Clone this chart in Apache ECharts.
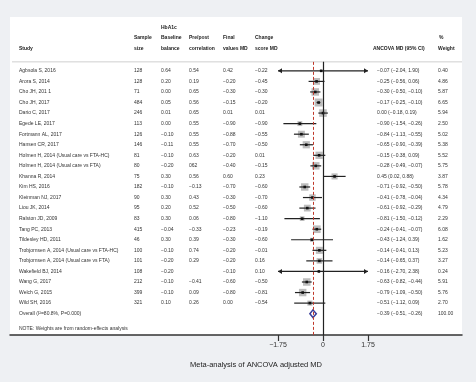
<!DOCTYPE html>
<html>
<head>
<meta charset="utf-8">
<script src="https://cdn.jsdelivr.net/npm/echarts@6/dist/echarts.min.js"></script>
<style>
  html, body { margin: 0; padding: 0; background: #eef0f3; }
  #main { width: 476px; height: 382px; }
</style>
</head>
<body>
<div id="main"></div>
<script>
// --- data ---
var studies = ['Agbsola S, 2016', 'Arora S, 2014', 'Cho JH, 201 1', 'Cho JH, 2017', 'Dario C, 2017',
  'Egede LE, 2017', 'Fortmann AL, 2017', 'Hansen CR, 2017', 'Holmen H, 2014 (Usual care vs FTA-HC)',
  'Holmen H, 2014 (Usual care vs FTA)', 'Khanna R, 2014', 'Kim HS, 2016', 'Kleinman NJ, 2017',
  'Liou JK, 2014', 'Ralston JD, 2009', 'Tang PC, 2013', 'Tildesley HD, 2011',
  'Trobjornsen A, 2014 (Usual care vs FTA-HC)', 'Trobjornsen A, 2014 (Usual care vs FTA)',
  'Wakefield BJ, 2014', 'Wang G, 2017', 'Welch G, 2015', 'Wild SH, 2016'];
var sampleSize = [128, 128, 71, 484, 246, 113, 126, 146, 81, 80, 75, 182, 90, 95, 83, 415, 46, 100, 101, 108, 212, 399, 321];
var baseline = [0.64, 0.20, 0.00, 0.05, 0.01, 0.00, -0.10, -0.11, -0.10, -0.20, 0.30, -0.10, 0.30, 0.20, 0.30, -0.04, 0.30, -0.10, -0.20, -0.20, -0.10, -0.10, 0.10];
var prePost = [0.54, 0.19, 0.65, 0.56, 0.65, 0.55, 0.55, 0.55, 0.63, '062', 0.56, -0.13, 0.43, 0.52, 0.06, -0.33, 0.39, 0.74, 0.29, null, -0.41, 0.09, 0.26];
var finalMD = [0.42, -0.20, -0.30, -0.15, 0.01, -0.90, -0.88, -0.70, -0.20, -0.40, 0.60, -0.70, -0.30, -0.50, -0.80, -0.23, -0.30, -0.20, -0.20, -0.10, -0.60, -0.80, 0.00];
var changeMD = [-0.22, -0.45, -0.30, -0.20, 0.01, -0.90, -0.55, -0.50, 0.01, -0.15, 0.23, -0.60, -0.70, -0.60, -1.10, -0.19, -0.60, -0.01, 0.16, 0.10, -0.50, -0.81, -0.54];
var ancova = [-0.07, -0.25, -0.30, -0.17, 0.00, -0.90, -0.84, -0.65, -0.15, -0.28, 0.45, -0.71, -0.41, -0.61, -0.81, -0.24, -0.43, -0.14, -0.14, -0.16, -0.63, -0.79, -0.51];
var ciLow = [-2.04, -0.56, -0.50, -0.25, -0.18, -1.54, -1.13, -0.90, -0.38, -0.49, 0.02, -0.92, -0.78, -0.92, -1.50, -0.41, -1.24, -0.41, -0.65, -2.70, -0.82, -1.09, -1.12];
var ciHigh = [1.90, 0.06, -0.10, -0.10, 0.19, -0.26, -0.55, -0.39, 0.09, -0.07, 0.88, -0.50, -0.04, -0.29, -0.12, -0.07, 0.39, 0.13, 0.37, 2.38, -0.44, -0.50, 0.09];
var weight = [0.40, 4.86, 5.87, 6.65, 5.94, 2.50, 5.02, 5.38, 5.52, 5.75, 3.87, 5.78, 4.34, 4.79, 2.29, 6.08, 1.62, 5.23, 3.27, 0.24, 5.91, 5.76, 2.70];
var overall = [-0.39, -0.51, -0.26];   // estimate, low, high
var overallLabel = 'Overall (I\u00B2=80.8%, P=0.000)';
var xTicks = [-1.75, 0, 1.75];
var clipAt = 1.75;

// --- layout helpers ---
var cols = { study: 19, n: 134, base: 161, pp: 189, fin: 223, chg: 255, ci: 377, w: 438 };
var FONT = 'Liberation Sans, Arial, Helvetica, sans-serif';
var rowHdr = [-4.06, -3.12, -2.08];
var noteRow = 24.46;

function fmt(v) {
  if (v === null || v === undefined) return '';
  if (typeof v === 'string') return v;
  return v.toFixed(2).replace('-', '\u2212').replace('\u22120.00', '0.00');
}
function fmtCI(e, l, h) {
  return fmt(e) + ' (' + fmt(l) + ', ' + fmt(h) + ')';
}

var tableRows = studies.map(function (s, i) {
  return [i, s, String(sampleSize[i]), fmt(baseline[i]), fmt(prePost[i]), fmt(finalMD[i]), fmt(changeMD[i]),
    fmtCI(ancova[i], ciLow[i], ciHigh[i]), fmt(weight[i])];
});
tableRows.push([studies.length, overallLabel, '', '', '', '', '', fmtCI(overall[0], overall[1], overall[2]), '100.00']);

var headerCells = [
  [cols.base, rowHdr[0], 'HbA1c'],
  [cols.n, rowHdr[1], 'Sample'], [cols.base, rowHdr[1], 'Baseline'], [cols.pp, rowHdr[1], 'Pre/post'],
  [cols.fin, rowHdr[1], 'Final'], [cols.chg, rowHdr[1], 'Change'], [cols.w + 1, rowHdr[1], '%'],
  [cols.study, rowHdr[2], 'Study'], [cols.n, rowHdr[2], 'size'], [cols.base, rowHdr[2], 'balance'],
  [cols.pp, rowHdr[2], 'correlation'], [cols.fin, rowHdr[2], 'values MD'], [cols.chg, rowHdr[2], 'score MD'],
  [cols.ci - 4, rowHdr[2], 'ANCOVA MD (95% CI)'], [cols.w, rowHdr[2], 'Weight']
];

function txt(p, s, bold) {
  return {
    type: 'text', x: p[0], y: p[1],
    style: { text: s, fill: bold ? '#222' : '#333', fontSize: 5, fontFamily: FONT,
      fontWeight: bold ? 'bold' : 'normal', align: 'left', verticalAlign: 'middle' }
  };
}

var myChart = echarts.init(document.getElementById('main'));

var option = {
  backgroundColor: '#eef0f3',
  animation: false,
  title: {
    text: 'Meta-analysis of ANCOVA adjusted MD',
    left: 185, top: 356,
    textStyle: { fontSize: 7.5, fontWeight: 'normal', color: '#222', fontFamily: FONT }
  },
  grid: { left: 10, right: 14, top: 17, bottom: 47, show: true, backgroundColor: '#fff', borderWidth: 0 },
  xAxis: [{
    type: 'value', min: -12.172, max: 5.406,
    axisLine: { show: true, onZero: false, lineStyle: { color: '#333', width: 1.5 } },
    axisTick: { show: true, customValues: xTicks, length: 6, lineStyle: { color: '#333', width: 1.2 } },
    axisLabel: { customValues: xTicks, fontSize: 7, color: '#333', fontFamily: FONT, margin: 7,
      formatter: function (v) { return v === 0 ? '0' : String(v).replace('-', '\u2212'); } },
    splitLine: { show: false }
  }, {
    type: 'value', min: 10, max: 462, show: false
  }],
  yAxis: { type: 'value', inverse: true, min: -5.1, max: 25.02, show: false },
  series: [
    {
      // table text
      type: 'custom', xAxisIndex: 1, yAxisIndex: 0, silent: true,
      data: tableRows,
      renderItem: function (params, api) {
        var r = tableRows[params.dataIndex];
        var row = r[0];
        var xs = [cols.study, cols.n, cols.base, cols.pp, cols.fin, cols.chg, cols.ci, cols.w];
        var kids = [];
        for (var k = 0; k < xs.length; k++) {
          if (r[k + 1] !== '') kids.push(txt(api.coord([xs[k], row]), r[k + 1], false));
        }
        return { type: 'group', children: kids };
      }
    },
    {
      // header, separator line and note
      type: 'custom', xAxisIndex: 1, yAxisIndex: 0, silent: true,
      data: [0],
      renderItem: function (params, api) {
        var kids = headerCells.map(function (h) { return txt(api.coord([h[0], h[1]]), h[2], true); });
        var a = api.coord([12, -0.85]), b = api.coord([462, -0.85]);
        kids.push({ type: 'line', shape: { x1: a[0], y1: a[1], x2: b[0], y2: b[1] },
          style: { stroke: '#cfcfcf', lineWidth: 1 } });
        kids.push(txt(api.coord([cols.study, noteRow]), 'NOTE: Weights are from random-effects analysis', false));
        return { type: 'group', children: kids };
      }
    },
    {
      // reference lines
      type: 'line', data: [], silent: true,
      markLine: {
        symbol: 'none', silent: true, label: { show: false },
        data: [
          [{ coord: [0, -0.85], lineStyle: { color: '#222', width: 1.2, type: 'solid' } }, { coord: [0, 25.02] }],
          [{ coord: [overall[0], -0.85], lineStyle: { color: '#c0392b', width: 1, type: [3, 2] } }, { coord: [overall[0], 25.02] }]
        ]
      }
    },
    {
      // study estimates
      type: 'custom', xAxisIndex: 0, yAxisIndex: 0, silent: true,
      data: ancova.map(function (e, i) { return [e, ciLow[i], ciHigh[i], weight[i], i]; }),
      renderItem: function (params, api) {
        var e = api.value(0), lo = api.value(1), hi = api.value(2), w = api.value(3), row = api.value(4);
        var p = api.coord([e, row]);
        var l = api.coord([Math.max(lo, -clipAt), row]);
        var h = api.coord([Math.min(hi, clipAt), row]);
        var s = 3.1 * Math.sqrt(w);
        var kids = [
          { type: 'rect', shape: { x: p[0] - s / 2, y: p[1] - s / 2, width: s, height: s },
            style: { fill: '#bdbdbd' } },
          { type: 'line', shape: { x1: l[0], y1: l[1], x2: h[0], y2: h[1] },
            style: { stroke: '#222', lineWidth: 1.2 } },
          { type: 'rect', shape: { x: p[0] - 1.3, y: p[1] - 1.3, width: 2.6, height: 2.6 },
            style: { fill: '#111' } }
        ];
        if (lo < -clipAt) kids.push({ type: 'polygon',
          shape: { points: [[l[0], l[1]], [l[0] + 4, l[1] - 2.5], [l[0] + 4, l[1] + 2.5]] }, style: { fill: '#222' } });
        if (hi > clipAt) kids.push({ type: 'polygon',
          shape: { points: [[h[0], h[1]], [h[0] - 4, h[1] - 2.5], [h[0] - 4, h[1] + 2.5]] }, style: { fill: '#222' } });
        return { type: 'group', children: kids };
      }
    },
    {
      // overall diamond
      type: 'custom', xAxisIndex: 0, yAxisIndex: 0, silent: true,
      data: [[overall[0], overall[1], overall[2], studies.length]],
      renderItem: function (params, api) {
        var row = api.value(3);
        var c = api.coord([api.value(0), row]);
        var l = api.coord([api.value(1), row]);
        var h = api.coord([api.value(2), row]);
        return { type: 'polygon',
          shape: { points: [[l[0], c[1]], [c[0], c[1] - 3.8], [h[0], c[1]], [c[0], c[1] + 3.8]] },
          style: { fill: '#fff', stroke: '#3b3f9a', lineWidth: 1.5 } };
      }
    }
  ]
};

myChart.setOption(option);
window.addEventListener('resize', function () { myChart.resize(); });
</script>
</body>
</html>
